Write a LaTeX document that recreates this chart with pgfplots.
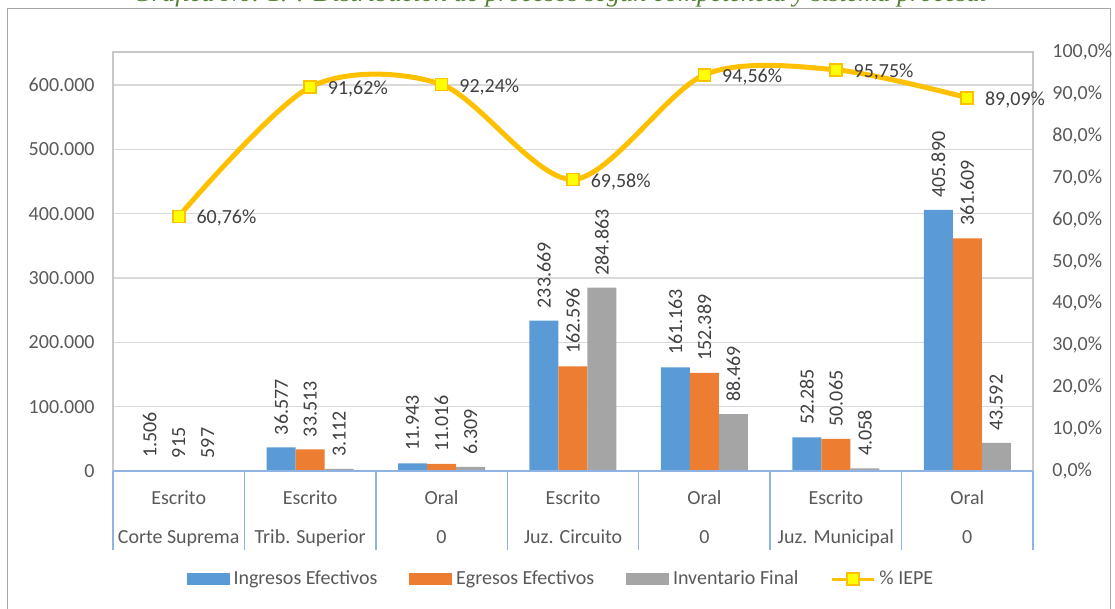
\documentclass[border=0pt]{standalone}
\usepackage{fontspec}
\setmainfont{Carlito}
\newfontfamily\titlefont{Liberation Serif}
\usepackage{pgfplots}
\pgfplotsset{compat=1.18}
\definecolor{cIng}{RGB}{91,155,213}
\definecolor{cEgr}{RGB}{237,125,49}
\definecolor{cInv}{RGB}{165,165,165}
\definecolor{cLine}{RGB}{255,192,0}
\definecolor{cMark}{RGB}{255,255,0}
\definecolor{gridc}{RGB}{217,217,217}
\definecolor{plotborder}{RGB}{200,200,200}
\definecolor{outerc}{RGB}{166,166,166}
\definecolor{sepblue}{RGB}{143,180,227}
\definecolor{tickc}{RGB}{89,89,89}
\definecolor{labelc}{RGB}{64,64,64}
\definecolor{titlegreen}{RGB}{84,130,53}
\begin{document}
\begin{tikzpicture}[font=\fontsize{10}{12}\selectfont]
\useasboundingbox (-56.5pt,-69pt) rectangle (501pt,235.5pt);
\clip (-56.5pt,-69pt) rectangle (501pt,235.5pt);
\draw[outerc, line width=0.8pt] (-52.75pt,-90pt) rectangle (498.75pt,231.25pt);
\node[anchor=base, text=titlegreen, font=\titlefont\itshape\fontsize{13.2}{15}\selectfont] at (223.5pt,234.6pt)
  {Gráfica No. 1. : Distribución de procesos según competencia y sistema procesal};
\begin{axis}[
  scale only axis, width=460pt, height=209.5pt,
  xmin=-0.5, xmax=6.5, ymin=0, ymax=651300,
  scaled y ticks=false,
  ybar=0pt, bar width=14.5pt,
  axis line style={draw=plotborder, line width=0.6pt},
  ytick={0,100000,...,600000},
  yticklabels={0,100.000,200.000,300.000,400.000,500.000,600.000},
  ymajorgrids, grid style={draw=gridc, line width=0.6pt},
  major tick length=0pt,
  xtick={0,...,6},
  xticklabels={{Escrito\\[7.5pt]Corte Suprema},{Escrito\\[7.5pt]Trib. Superior},{Oral\\[7.5pt]0},
    {Escrito\\[7.5pt]Juz. Circuito},{Oral\\[7.5pt]0},{Escrito\\[7.5pt]Juz. Municipal},{Oral\\[7.5pt]0}},
  xticklabel style={align=center, anchor=north, inner sep=0pt, yshift=-9.5pt, text=tickc},
  yticklabel style={anchor=east, inner sep=0pt, xshift=-9pt, text=tickc},
  clip=false,
  point meta=explicit symbolic,
  nodes near coords,
  every node near coord/.append style={rotate=90, anchor=west, inner xsep=6pt, inner ysep=0pt, text=labelc},
]
\addplot[fill=cIng, draw=none] coordinates {(0,1506)[1.506] (1,36577)[36.577] (2,11943)[11.943] (3,233669)[233.669] (4,161163)[161.163] (5,52285)[52.285] (6,405890)[405.890]};
\addplot[fill=cEgr, draw=none] coordinates {(0,915)[915] (1,33513)[33.513] (2,11016)[11.016] (3,162596)[162.596] (4,152389)[152.389] (5,50065)[50.065] (6,361609)[361.609]};
\addplot[fill=cInv, draw=none] coordinates {(0,597)[597] (1,3112)[3.112] (2,6309)[6.309] (3,284863)[284.863] (4,88469)[88.469] (5,4058)[4.058] (6,43592)[43.592]};
\draw[sepblue, line width=0.8pt] (rel axis cs:0,0) -- (rel axis cs:1,0);
\pgfplotsinvokeforeach{-0.5,0.5,1.5,2.5,3.5,4.5,5.5,6.5}{\draw[sepblue, line width=0.7pt] (axis cs:#1,0) -- ++(0pt,-39.5pt);}
\end{axis}
\begin{axis}[
  scale only axis, width=460pt, height=209.5pt,
  xmin=-0.5, xmax=6.5, ymin=0, ymax=100,
  axis y line*=right, hide x axis,
  y axis line style={draw=none},
  major tick length=0pt,
  ytick={0,10,...,100},
  yticklabels={{0,0\%},{10,0\%},{20,0\%},{30,0\%},{40,0\%},{50,0\%},{60,0\%},{70,0\%},{80,0\%},{90,0\%},{100,0\%}},
  yticklabel style={anchor=west, inner sep=0pt, xshift=9.5pt, text=tickc},
  clip=false,
  legend columns=4,
  legend style={at={(0.488,-0.258)}, anchor=center, draw=none, fill=none, text=tickc,
    /tikz/every even column/.append style={column sep=14pt}},
]
\addlegendimage{legend image code/.code={\fill[cIng] (0pt,-2.75pt) rectangle (21pt,2.75pt);}}
\addlegendimage{legend image code/.code={\fill[cEgr] (0pt,-2.75pt) rectangle (21pt,2.75pt);}}
\addlegendimage{legend image code/.code={\fill[cInv] (0pt,-2.75pt) rectangle (21pt,2.75pt);}}
\addplot[cLine, line width=2.5pt, smooth, mark=square*, mark size=3pt,
  mark options={fill=cMark, draw=cLine, line width=0.8pt},
  point meta=explicit symbolic, nodes near coords,
  every node near coord/.style={anchor=west, inner sep=0pt, xshift=8.5pt, yshift=-1pt, text=labelc},
  legend image code/.code={\draw[cLine, line width=1.5pt, mark=square*, mark size=3pt,
    mark options={fill=cMark, draw=cLine, line width=0.8pt}, mark repeat=2, mark phase=2]
    plot coordinates {(0pt,0pt) (10.5pt,0pt) (21pt,0pt)};}]
 coordinates {(0,60.76)[{60,76\%}] (1,91.62)[{91,62\%}] (2,92.24)[{92,24\%}] (3,69.58)[{69,58\%}] (4,94.56)[{94,56\%}] (5,95.75)[{95,75\%}] (6,89.09)[{89,09\%}]};
\legend{Ingresos Efectivos,Egresos Efectivos,Inventario Final,\% IEPE}
\end{axis}
\end{tikzpicture}
\end{document}
